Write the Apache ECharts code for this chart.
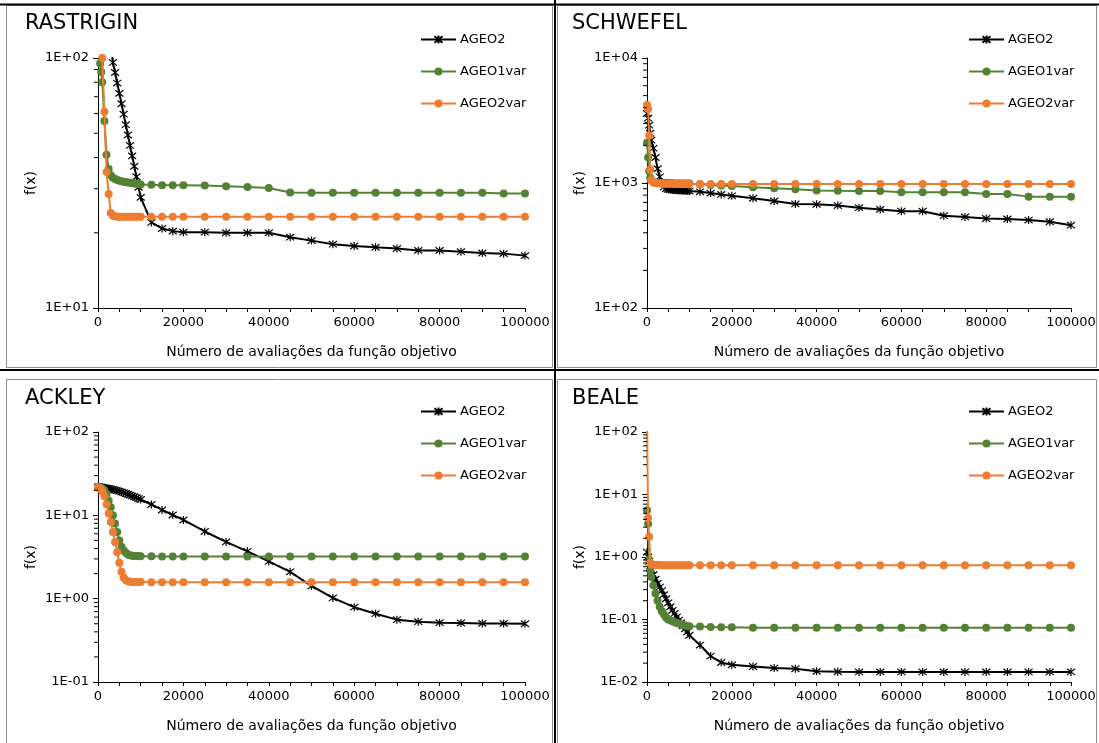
<!DOCTYPE html>
<html>
<head>
<meta charset="utf-8">
<script src="https://cdn.jsdelivr.net/npm/echarts@6/dist/echarts.min.js"></script>
<style>
html,body{margin:0;padding:0;background:#fff;}
#c{width:1099px;height:743px;}
</style>
</head>
<body>
<div id="c"></div>
<script>
// ---------- data ----------
const X = [0,250,500,750,1000,1500,2000,2500,3000,3500,4000,4500,5000,5500,6000,6500,7000,7500,8000,8500,9000,9500,10000,
  12500,15000,17500,20000,25000,30000,35000,40000,45000,50000,55000,60000,65000,70000,75000,80000,85000,90000,95000,100000];

const SERIES_NAMES = ['AGEO2','AGEO1var','AGEO2var'];
const PANEL_TITLES = ['RASTRIGIN','SCHWEFEL','ACKLEY','BEALE'];
const X_AXIS_NAME = 'Número de avaliações da função objetivo';
const Y_AXIS_NAME = 'f(x)';
const Y_RANGES = [[10,100],[100,10000],[0.1,100],[0.01,100]];

// RASTRIGIN
const RAS_AGEO2 = [null,null,null,null,null,null,null,null,112,96,87.5,79.4,72.2,65.6,59.6,54.1,49.2,44.7,40.6,36.9,33.5,30.4,27.7,
  22,20.8,20.3,20.1,20.1,20.0,20.0,20.0,19.2,18.6,18.0,17.7,17.5,17.3,17.0,17.0,16.8,16.6,16.5,16.2];
const RAS_AGEO1VAR = [120,105,95,88,80,56,41,36,34,33.2,32.8,32.5,32.3,32.1,32.0,31.9,31.8,31.7,31.6,31.5,31.4,31.3,31.2,
  31.1,31.0,31.0,31.0,30.9,30.7,30.5,30.2,29.0,28.9,28.9,28.9,28.9,28.9,28.9,28.9,28.9,28.9,28.7,28.7];
const RAS_AGEO2VAR = [130,120,115,108,100,61,35,28.6,24,23.4,23.3,23.2,23.2,23.2,23.2,23.2,23.2,23.2,23.2,23.2,23.2,23.2,23.2,
  23.2,23.2,23.2,23.2,23.2,23.2,23.2,23.2,23.2,23.2,23.2,23.2,23.2,23.2,23.2,23.2,23.2,23.2,23.2,23.2];

// SCHWEFEL
const SCH_AGEO2 = [3600,3300,2900,2500,2200,1900,1600,1300,1120,1000,930,900,890,885,880,878,875,872,870,868,866,864,862,
  850,830,810,790,755,718,680,675,660,635,615,595,595,548,535,520,515,505,490,460];
const SCH_AGEO1VAR = [2100,1600,1250,1100,1050,1020,1010,1005,1000,1000,998,997,996,995,994,993,992,991,991,990,990,990,990,
  975,965,955,945,925,908,890,870,865,863,863,845,845,845,845,818,818,778,778,778];
const SCH_AGEO2VAR = [4200,3900,2400,1280,1050,1010,1000,995,992,990,988,987,986,985,985,984,984,983,983,982,982,982,981,
  981,980,980,980,980,980,980,980,980,980,980,980,980,980,980,980,980,980,980,980];

// ACKLEY
const ACK_AGEO2 = [22,21.9,21.8,21.7,21.6,21.4,21.2,21.0,20.7,20.4,20.1,19.8,19.5,19.1,18.7,18.3,17.9,17.5,17.1,16.7,16.3,15.9,15.5,
  13.5,11.6,10.1,8.8,6.4,4.8,3.7,2.8,2.1,1.42,1.02,0.79,0.66,0.56,0.53,0.515,0.51,0.505,0.505,0.5];
const ACK_AGEO1VAR = [21.7,21.6,21.5,21.3,21.0,20.0,18.0,15.0,12.5,10.0,8.0,6.3,5.0,4.2,3.8,3.55,3.4,3.32,3.28,3.26,3.25,3.24,3.23,
  3.22,3.21,3.2,3.2,3.2,3.2,3.2,3.2,3.2,3.2,3.2,3.2,3.2,3.2,3.2,3.2,3.2,3.2,3.2,3.2];
const ACK_AGEO2VAR = [21.7,21.5,21.2,20.5,19.5,17.0,13.5,10.5,8.3,6.3,4.8,3.6,2.7,2.1,1.8,1.68,1.63,1.6,1.59,1.58,1.58,1.58,1.58,
  1.57,1.57,1.57,1.57,1.57,1.57,1.57,1.57,1.57,1.57,1.57,1.57,1.57,1.57,1.57,1.57,1.57,1.57,1.57,1.57];

// BEALE
const BEA_AGEO2 = [1.2,1.0,0.85,0.72,0.63,0.52,0.44,0.38,0.33,0.29,0.25,0.215,0.185,0.16,0.14,0.125,0.11,0.098,0.088,0.079,0.071,0.063,0.056,
  0.039,0.026,0.0205,0.0188,0.0177,0.0167,0.0163,0.0148,0.0146,0.0145,0.0145,0.0145,0.0145,0.0145,0.0145,0.0145,0.0145,0.0145,0.0145,0.0145];
const BEA_AGEO1VAR = [5.6,3.4,0.9,0.6,0.48,0.35,0.26,0.2,0.16,0.135,0.12,0.108,0.1,0.097,0.094,0.091,0.088,0.086,0.084,0.082,0.08,0.079,0.078,
  0.077,0.076,0.075,0.075,0.074,0.074,0.074,0.074,0.074,0.074,0.074,0.074,0.074,0.074,0.074,0.074,0.074,0.074,0.074,0.074];
const BEA_AGEO2VAR = [150,4.2,2.1,0.8,0.76,0.75,0.745,0.745,0.74,0.74,0.74,0.74,0.74,0.74,0.74,0.74,0.74,0.74,0.74,0.74,0.74,0.74,0.74,
  0.74,0.74,0.74,0.74,0.74,0.74,0.74,0.74,0.74,0.74,0.74,0.74,0.74,0.74,0.74,0.74,0.74,0.74,0.74,0.74];

const PANEL_DATA = [
  [RAS_AGEO2, RAS_AGEO1VAR, RAS_AGEO2VAR],
  [SCH_AGEO2, SCH_AGEO1VAR, SCH_AGEO2VAR],
  [ACK_AGEO2, ACK_AGEO1VAR, ACK_AGEO2VAR],
  [BEA_AGEO2, BEA_AGEO1VAR, BEA_AGEO2VAR]
];

// ---------- layout / style ----------
const FONT = 'DejaVu Sans';
const COLORS = ['#000000', '#548235', '#ED7D31'];
const STAR = 'path://M1,1L9,9M9,1L1,9M5,0L5,10';
const LAYOUT = [
  {left: 98,  top: 58,  width: 427, height: 250, tx: 25,  ty: 13,  lx: 420, ly: 33},
  {left: 647, top: 58,  width: 424, height: 250, tx: 572, ty: 13,  lx: 968, ly: 33},
  {left: 98,  top: 432, width: 427, height: 250, tx: 25,  ty: 388, lx: 420, ly: 405},
  {left: 647, top: 432, width: 424, height: 250, tx: 572, ty: 388, lx: 968, ly: 405}
];

function expLabel(v) {
  const e = Math.round(Math.log10(v));
  return '1E' + (e < 0 ? '-' : '+') + String(Math.abs(e)).padStart(2, '0');
}
function minorValues(range) {
  const out = [];
  const e0 = Math.round(Math.log10(range[0])), e1 = Math.round(Math.log10(range[1]));
  for (let e = e0; e < e1; e++) {
    for (let k = 2; k <= 9; k++) out.push(+(k * Math.pow(10, e)).toPrecision(6));
  }
  return out;
}

const grid = [], xAxis = [], yAxis = [], series = [], title = [], legend = [];
LAYOUT.forEach((L, i) => {
  grid.push({left: L.left, top: L.top, width: L.width, height: L.height, containLabel: false});
  title.push({text: PANEL_TITLES[i], left: L.tx, top: L.ty, padding: 0,
    textStyle: {fontFamily: FONT, fontSize: 21, fontWeight: 'normal', color: '#000'}});
  legend.push({data: SERIES_NAMES, left: L.lx, top: L.ly, orient: 'vertical', itemGap: 19, padding: 0,
    itemWidth: 35, itemHeight: 10, selectedMode: false,
    textStyle: {fontFamily: FONT, fontSize: 13, color: '#000', padding: [0, 0, 0, -1]}});
  xAxis.push({type: 'value', gridIndex: i, min: 0, max: 100000, interval: 20000,
    axisLine: {show: true, onZero: false, lineStyle: {color: '#000', width: 1}},
    axisTick: {show: true, length: 4, lineStyle: {color: '#000'}},
    minorTick: {show: true, splitNumber: 4, length: 4, lineStyle: {color: '#000'}},
    splitLine: {show: false},
    axisLabel: {color: '#000', fontFamily: FONT, fontSize: 13, margin: 8, formatter: v => String(v)},
    name: X_AXIS_NAME, nameLocation: 'middle', nameGap: 37,
    nameTextStyle: {color: '#000', fontFamily: FONT, fontSize: 14}});
  yAxis.push({type: 'log', logBase: 10, gridIndex: i, min: Y_RANGES[i][0], max: Y_RANGES[i][1],
    axisLine: {show: true, onZero: false, lineStyle: {color: '#000', width: 1}},
    axisTick: {show: true, length: 5, lineStyle: {color: '#000'}},
    splitLine: {show: false},
    axisLabel: {color: '#000', fontFamily: FONT, fontSize: 13, margin: 9, formatter: expLabel},
    name: Y_AXIS_NAME, nameLocation: 'middle', nameRotate: 90, nameGap: 60,
    nameTextStyle: {color: '#000', fontFamily: FONT, fontSize: 14}});

  // log-spaced minor ticks on the y axis
  series.push({type: 'custom', name: 'minor', coordinateSystem: 'cartesian2d',
    xAxisIndex: i, yAxisIndex: i, silent: true, clip: false,
    encode: {x: 0, y: 1},
    data: minorValues(Y_RANGES[i]).map(v => [0, v]),
    renderItem: function (params, api) {
      const p = api.coord([api.value(0), api.value(1)]);
      return {type: 'line', shape: {x1: p[0] - 4, y1: p[1], x2: p[0], y2: p[1]},
        style: {stroke: '#000', lineWidth: 1, fill: null}};
    }, z: 10});

  PANEL_DATA[i].forEach((ys, s) => {
    const isStar = s === 0;
    series.push({
      type: 'line', name: SERIES_NAMES[s], xAxisIndex: i, yAxisIndex: i,
      data: X.map((x, k) => [x, ys[k]]),
      connectNulls: false, clip: true, animation: false,
      symbol: isStar ? STAR : 'circle',
      symbolSize: 8,
      showAllSymbol: true,
      lineStyle: {color: COLORS[s], width: 2},
      itemStyle: isStar ? {color: '#000', borderColor: '#000', borderWidth: 1.2}
                        : {color: COLORS[s], borderColor: COLORS[s], borderWidth: 0},
      emphasis: {disabled: true},
      z: 2 + s
    });
  });
});

const graphic = [
  {type: 'rect', shape: {x: 6.5, y: 5.5, width: 546, height: 362}, style: {fill: 'none', stroke: '#8c8c8c', lineWidth: 1}, silent: true},
  {type: 'rect', shape: {x: 557.5, y: 5.5, width: 539, height: 362}, style: {fill: 'none', stroke: '#8c8c8c', lineWidth: 1}, silent: true},
  {type: 'rect', shape: {x: 6.5, y: 379.5, width: 546, height: 370}, style: {fill: 'none', stroke: '#8c8c8c', lineWidth: 1}, silent: true},
  {type: 'rect', shape: {x: 557.5, y: 379.5, width: 539, height: 370}, style: {fill: 'none', stroke: '#8c8c8c', lineWidth: 1}, silent: true},
  {type: 'line', shape: {x1: 0, y1: 4.5, x2: 1099, y2: 4.5}, style: {stroke: '#000', lineWidth: 2}, silent: true},
  {type: 'line', shape: {x1: 555, y1: 0, x2: 555, y2: 743}, style: {stroke: '#000', lineWidth: 2}, silent: true},
  {type: 'line', shape: {x1: 0, y1: 370, x2: 1099, y2: 370}, style: {stroke: '#000', lineWidth: 2}, silent: true}
];

const chart = echarts.init(document.getElementById('c'), null, {renderer: 'canvas'});
chart.setOption({
  backgroundColor: '#fff',
  animation: false,
  title, legend, grid, xAxis, yAxis, series, graphic
});
</script>
</body>
</html>
